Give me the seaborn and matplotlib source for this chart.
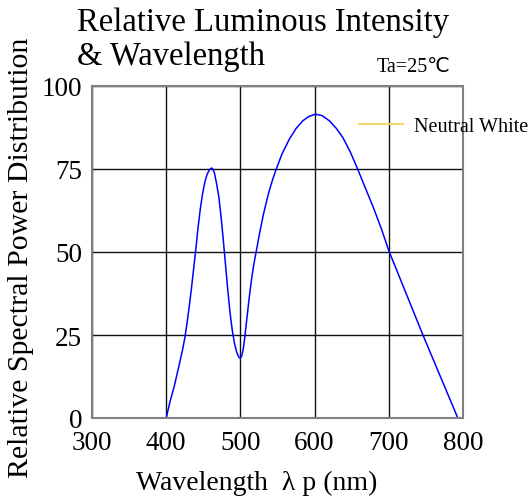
import matplotlib
matplotlib.use("Agg")
import matplotlib.pyplot as plt
import seaborn as sns
import pandas as pd
from matplotlib.lines import Line2D

wavelength = [400, 405, 411, 418, 422, 425, 428, 431, 434, 437, 440, 443, 446, 449,
              452, 455, 458, 461, 463, 465, 468, 471, 474, 477, 480, 483, 486, 489,
              492, 495, 498, 500, 502, 504, 506, 509, 512, 515, 518, 522, 526, 531,
              536, 540, 544, 548, 556, 566, 575, 584, 592, 601, 610, 620, 629, 638,
              648, 658, 668, 679, 690, 700, 746, 793]
intensity = [0, 4.8, 9.7, 16.5, 20.5, 24, 28.5, 33.5, 39, 45, 51, 57.5, 63, 67.5,
             71, 73.3, 74.7, 75.3, 75, 73.8, 70.5, 66.5, 60.5, 53.5, 46, 38.5, 31.8, 26.5,
             22.5, 19.8, 18.3, 18, 18.8, 21, 24.5, 30.5, 36.5, 41.7, 46.2, 51, 55.8, 61.3,
             66, 69.3, 72.2, 74.8, 79.5, 84, 87.2, 89.5, 90.8, 91.5, 91.1, 89.5, 87.3, 84.5,
             80.2, 75, 69.5, 63.5, 57, 50.4, 25, 0]
x_ticks = [300, 400, 500, 600, 700, 800]
y_ticks = [0, 25, 50, 75, 100]
legend_label = "Neutral White"

df = pd.DataFrame({"wavelength": wavelength, "intensity": intensity})

sns.set_theme(style="white")
plt.rcParams['font.family'] = ['Liberation Serif', 'DejaVu Serif']
plt.rcParams['text.color'] = 'black'
plt.rcParams['axes.labelcolor'] = 'black'

fig = plt.figure(figsize=(5.31, 5.02), dpi=100)
ax = fig.add_axes([92 / 531, 1 - 419 / 502, (463 - 92) / 531, (419 - 87) / 502])

sns.lineplot(data=df, x="wavelength", y="intensity", ax=ax, color="#0000FF",
             linewidth=1.1, sort=False, legend=False)

ax.set_xlim(300, 800)
ax.set_ylim(0, 100)
ax.set_xticks(x_ticks)
ax.set_yticks(y_ticks)
ax.set_xticklabels([str(v) for v in x_ticks], fontsize=19.5)
ax.set_yticklabels([str(v) for v in y_ticks], fontsize=19.5)
ax.tick_params(axis="both", length=0, colors="black")
ax.tick_params(axis="x", pad=9)
ax.tick_params(axis="y", pad=7)
ax.grid(True, color="#111111", linewidth=1.0)
ax.set_axisbelow(True)
for s in ax.spines.values():
    s.set_color("#808080")
    s.set_linewidth(1.5)
    s.set_visible(True)

ax.set_xlabel("Wavelength  λ p (nm)", fontsize=20)
ax.xaxis.set_label_coords((257 - 92) / 371, -(483 - 419) / 332)
ax.xaxis.label.set_va("center")
ax.set_ylabel("Relative Spectral Power Distribution", fontsize=21.5)
ax.yaxis.set_label_coords(-(92 - 21) / 371, (419 - 258) / 332)
ax.yaxis.label.set_va("center")

fig.text(77 / 531, 1 - 8 / 502, "Relative Luminous Intensity", fontsize=23.5,
         ha="left", va="top")
fig.text(77 / 531, 1 - 41 / 502, "& Wavelength", fontsize=23.5,
         ha="left", va="top")
fig.text(451 / 531, 1 - 72 / 502, "Ta=25℃", fontsize=14.5, ha="right",
         va="baseline", family=['Liberation Serif', 'DejaVu Sans'])

handle = Line2D([], [], color="#F5D36B", linewidth=1.5)
ax.legend([handle], [legend_label], loc="center left", frameon=False,
          bbox_to_anchor=(359 / 531, 1 - 127 / 502), bbox_transform=fig.transFigure,
          fontsize=14.5, handlelength=2.2, handletextpad=0.55, borderpad=0,
          borderaxespad=0)

fig.savefig("out.png", dpi=100)
